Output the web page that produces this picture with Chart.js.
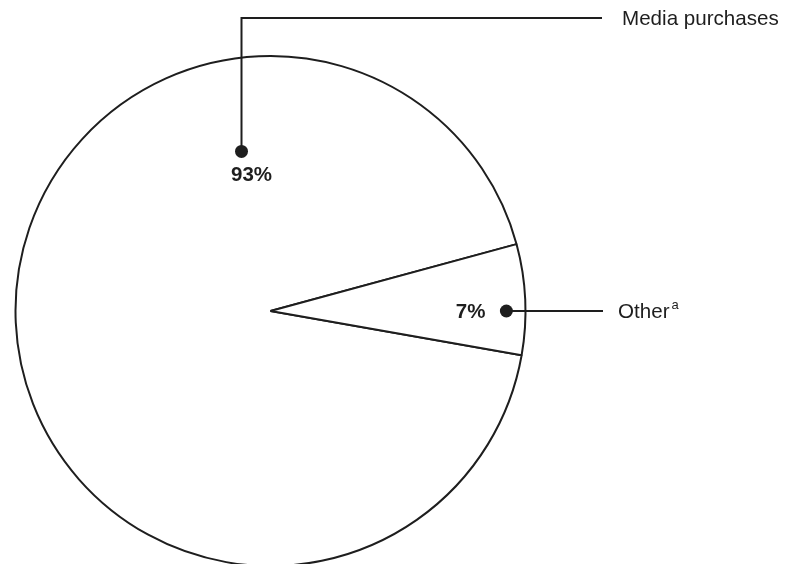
<!DOCTYPE html>
<html>
<head>
<meta charset="utf-8">
<script src="https://cdn.jsdelivr.net/npm/chart.js@4.4.1/dist/chart.umd.min.js"></script>
<style>
  html, body { margin: 0; padding: 0; background: #fff; }
  #wrap { width: 786px; height: 564px; position: relative; }
</style>
</head>
<body>
<div id="wrap"><canvas id="chart" width="786" height="564"></canvas></div>
<script>
const categories = ['Media purchases', 'Other'];
const shares = [93, 7];
const percentLabels = ['93%', '7%'];
const footnotes = ['', 'a'];

const INK = '#1e1e1e';
const FONT = '"Liberation Sans", Arial, Helvetica, sans-serif';

// leader lines + labels, positioned off the arc geometry
const calloutPlugin = {
  id: 'callouts',
  afterDraw(chart) {
    const meta = chart.getDatasetMeta(0);
    const ctx = chart.ctx;
    const media = meta.data[0];
    const cx = media.x, cy = media.y, r = media.outerRadius;

    ctx.save();
    ctx.strokeStyle = INK;
    ctx.fillStyle = INK;
    ctx.lineWidth = 2;

    // Media purchases: dot inside the big slice, line up then right
    const a1 = -100.3 * Math.PI / 180;
    const d1 = r * 0.636;
    const p1x = cx + Math.cos(a1) * d1, p1y = cy + Math.sin(a1) * d1;
    ctx.beginPath();
    ctx.moveTo(p1x, p1y);
    ctx.lineTo(p1x, 18);
    ctx.lineTo(602, 18);
    ctx.stroke();
    ctx.beginPath();
    ctx.arc(p1x, p1y, 6.5, 0, Math.PI * 2);
    ctx.fill();

    ctx.font = 'bold 20.5px ' + FONT;
    ctx.textAlign = 'center';
    ctx.textBaseline = 'middle';
    ctx.fillText(percentLabels[0], p1x + 10, p1y + 24);

    ctx.font = '20.6px ' + FONT;
    ctx.textAlign = 'left';
    ctx.fillText(categories[0], 622, 19);

    // Other: dot in the small slice, line straight right
    const d2 = r * 0.925;
    const p2x = cx + d2, p2y = cy;
    ctx.beginPath();
    ctx.moveTo(p2x, p2y);
    ctx.lineTo(603, p2y);
    ctx.stroke();
    ctx.beginPath();
    ctx.arc(p2x, p2y, 6.5, 0, Math.PI * 2);
    ctx.fill();

    ctx.font = 'bold 20.5px ' + FONT;
    ctx.textAlign = 'right';
    ctx.fillText(percentLabels[1], p2x - 21, p2y + 1);

    ctx.font = '20.6px ' + FONT;
    ctx.textAlign = 'left';
    ctx.fillText(categories[1], 618, p2y + 1);
    const w = ctx.measureText(categories[1]).width;
    ctx.font = '13px ' + FONT;
    ctx.textBaseline = 'alphabetic';
    ctx.fillText(footnotes[1], 618 + w + 2, p2y - 2);

    ctx.restore();
  }
};

new Chart(document.getElementById('chart'), {
  type: 'pie',
  data: {
    labels: categories,
    datasets: [{
      data: shares,
      backgroundColor: '#ffffff',
      borderColor: INK,
      borderWidth: 2,
      clip: false
    }]
  },
  options: {
    responsive: false,
    animation: false,
    rotation: 100,
    radius: 255,
    layout: { padding: { left: 0, right: 245, top: 58, bottom: 0 } },
    plugins: {
      legend: { display: false },
      tooltip: { enabled: false }
    }
  },
  plugins: [calloutPlugin]
});
</script>
</body>
</html>
